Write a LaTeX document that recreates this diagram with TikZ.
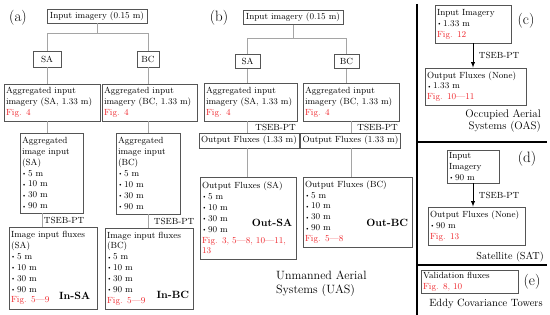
\documentclass[tikz,border=0pt]{standalone}
\usetikzlibrary{arrows}

\definecolor{boxgray}{RGB}{85,85,85}
\definecolor{linkgray}{RGB}{165,165,165}
\definecolor{figred}{RGB}{238,36,42}

\newcommand{\ptbul}{\raisebox{0.2ex}{\scalebox{0.65}{\textbullet}}\,}
\newcommand{\figref}[1]{\textcolor{figred}{#1}}

\tikzset{
    every node/.style={font=\fontsize{8.9}{10.9}\selectfont},
    box/.style={draw=boxgray, line width=0.8pt, inner xsep=2pt, inner ysep=2pt, align=left},
    sbox/.style={draw=boxgray, line width=0.8pt, inner sep=2pt, align=center},
    link/.style={draw=linkgray, line width=0.8pt},
    arrow/.style={draw=black, line width=0.9pt, -latex},
    lab/.style={inner sep=1.5pt},
    panel/.style={font=\fontsize{15}{17}\selectfont},
    tag/.style={font=\fontsize{10.5}{12}\selectfont\bfseries, inner sep=3pt},
    caption/.style={inner sep=0pt}
}

\begin{document}
\begin{tikzpicture}[x=1pt, y=-1pt]
    \useasboundingbox (0,0) rectangle (550,315);

    % (a)
    \node[panel] (aLab) at (18,18) {(a)};
    \node[sbox, minimum width=100pt, minimum height=14pt] (aIn) at (97,16) {Input imagery (0.15 m)};
    \node[sbox, minimum width=28pt, minimum height=16pt] (aSA) at (47,59) {SA};
    \node[sbox, minimum width=22pt, minimum height=16pt] (aBC) at (148,59) {BC};
    \node[box, text width=92pt, minimum height=37pt] (aAggSA) at (52,102.5)
        {Aggregated input\\imagery (SA, 1.33 m)\\\figref{Fig. 4}};
    \node[box, text width=91pt, minimum height=37pt] (aAggBC) at (149.5,102.5)
        {Aggregated input\\imagery (BC, 1.33 m)\\\figref{Fig. 4}};
    \node[box, text width=59pt, minimum height=80pt] (aImgSA) at (51.5,173)
        {Aggregated\\image input\\(SA)\\\ptbul 5 m\\\ptbul 10 m\\\ptbul 30 m\\\ptbul 90 m};
    \node[box, text width=60pt, minimum height=81pt] (aImgBC) at (148,173.5)
        {Aggregated\\image input\\(BC)\\\ptbul 5 m\\\ptbul 10 m\\\ptbul 30 m\\\ptbul 90 m};
    \node[box, text width=84pt, minimum height=82pt] (aFluxSA) at (53,268)
        {Image input fluxes\\(SA)\\\ptbul 5 m\\\ptbul 10 m\\\ptbul 30 m\\\ptbul 90 m\\\figref{Fig. 5---9}};
    \node[box, text width=84pt, minimum height=81pt] (aFluxBC) at (149,268.5)
        {Image input fluxes\\(BC)\\\ptbul 5 m\\\ptbul 10 m\\\ptbul 30 m\\\ptbul 90 m\\\figref{Fig. 5---9}};
    \node[tag, anchor=base east] (aTagSA) at ([shift={(-4,-10)}]aFluxSA.south east) {In-SA};
    \node[tag, anchor=base east] (aTagBC) at ([shift={(-1,-11)}]aFluxBC.south east) {In-BC};

    \draw[link] (aIn.south) -- ++(0,10) -| (aSA.north);
    \draw[link] (aIn.south) -- ++(0,10) -| (aBC.north);
    \draw[link] (aSA.south) -- (aSA.south |- aAggSA.north);
    \draw[link] (aBC.south) -- (aBC.south |- aAggBC.north);
    \draw[link] (aSA.south |- aAggSA.south) -- (aSA.south |- aImgSA.north);
    \draw[link] (aBC.south |- aAggBC.south) -- (aBC.south |- aImgBC.north);
    \draw[link] ([xshift=-5pt]aSA.south |- aImgSA.south) -- ([xshift=-5pt]aSA.south |- aFluxSA.north)
        node[lab, midway, right] (aTsSA) {TSEB-PT};
    \draw[link] (aBC.south |- aImgBC.south) -- (aBC.south |- aFluxBC.north)
        node[lab, midway, right, xshift=4pt] (aTsBC) {TSEB-PT};

    % (b)
    \node[panel] (bLab) at (219,18) {(b)};
    \node[sbox, minimum width=100pt, minimum height=14pt] (bIn) at (293,17.5) {Input imagery (0.15 m)};
    \node[sbox, minimum width=25pt, minimum height=14pt] (bSA) at (247.5,61.5) {SA};
    \node[sbox, minimum width=25pt, minimum height=14pt] (bBC) at (346.5,61.5) {BC};
    \node[box, text width=89pt, minimum height=38pt] (bAggSA) at (250.5,102)
        {Aggregated input\\imagery (SA, 1.33 m)\\\figref{Fig. 4}};
    \node[box, text width=92pt, minimum height=38pt] (bAggBC) at (351,102)
        {Aggregated input\\imagery (BC, 1.33 m)\\\figref{Fig. 4}};
    \node[sbox, minimum width=100pt, minimum height=15pt] (bOutSA) at (249,140.5) {Output Fluxes (1.33 m)};
    \node[sbox, minimum width=97pt, minimum height=15pt] (bOutBC) at (350.5,140.5) {Output Fluxes (1.33 m)};
    \node[box, text width=92pt, minimum height=82pt] (bFluxSA) at (248,218)
        {Output Fluxes (SA)\\\ptbul 5 m\\\ptbul 10 m\\\ptbul 30 m\\\ptbul 90 m\\\figref{Fig. 3, 5---8, 10---11,}\\\figref{13}};
    \node[box, text width=105pt, minimum height=70pt] (bFluxBC) at (357.5,212)
        {Output Fluxes (BC)\\\ptbul 5 m\\\ptbul 10 m\\\ptbul 30 m\\\ptbul 90 m\\\figref{Fig. 5---8}};
    \node[tag, anchor=base east] (bTagSA) at ([shift={(-1,9)}]bFluxSA.east) {Out-SA};
    \node[tag, anchor=base east] (bTagBC) at ([shift={(-1,15)}]bFluxBC.east) {Out-BC};
    \node[caption, anchor=north west, align=left, font=\fontsize{12}{14}\selectfont] (bCap) at (276,271)
        {Unmanned Aerial\\Systems (UAS)};

    \draw[link] (bIn.south) -- ++(0,14) -| (bSA.north);
    \draw[link] (bIn.south) -- ++(0,14) -| (bBC.north);
    \draw[link] (bSA.south) -- (bSA.south |- bAggSA.north);
    \draw[link] (bBC.south) -- (bBC.south |- bAggBC.north);
    \draw[link] (bSA.south |- bAggSA.south) -- (bSA.south |- bOutSA.north)
        node[lab, midway, right, xshift=6pt] (bTsSA) {TSEB-PT};
    \draw[link] ([xshift=5pt]bBC.south |- bAggBC.south) -- ([xshift=5pt]bBC.south |- bOutBC.north)
        node[lab, midway, right, xshift=4pt] (bTsBC) {TSEB-PT};
    \draw[link] (bSA.south |- bOutSA.south) -- (bSA.south |- bFluxSA.north);
    \draw[link] ([xshift=5pt]bBC.south |- bOutBC.south) -- ([xshift=5pt]bBC.south |- bFluxBC.north);

    % separators
    \draw[line width=1.4pt] (417,4) -- (417,315);
    \draw[line width=1.4pt] (417,142) -- (547,142);
    \draw[line width=1.4pt] (417,265) -- (547,265);

    % (c)
    \node[panel] (cLab) at (526,21) {(c)};
    \node[box, text width=72pt, minimum height=38pt] (cIn) at (473,24)
        {Input Imagery\\\ptbul 1.33 m\\\figref{Fig. 12}};
    \node[box, text width=97pt, minimum height=37pt] (cOut) at (475.5,86.5)
        {Output Fluxes (None)\\\ptbul 1.33 m\\\figref{Fig. 10---11}};
    \draw[arrow] (cIn.south) -- (cIn.south |- cOut.north)
        node[lab, midway, right, xshift=4pt] (cTs) {TSEB-PT};
    \node[caption, anchor=north east, align=right, font=\fontsize{11}{12.5}\selectfont] (cCap) at (541,109)
        {Occupied Aerial\\Systems (OAS)};

    % (d)
    \node[panel] (dLab) at (527,159) {(d)};
    \node[box, text width=48pt, minimum height=33pt] (dIn) at (473,166.5)
        {Input\\Imagery\\\ptbul 90 m};
    \node[box, text width=93pt, minimum height=38pt] (dOut) at (476.5,226)
        {Output Fluxes (None)\\\ptbul 90 m\\\figref{Fig. 13}};
    \draw[arrow] (dIn.south) -- (dIn.south |- dOut.north)
        node[lab, midway, right, xshift=4pt] (dTs) {TSEB-PT};
    \node[caption, anchor=east, font=\fontsize{10.2}{12}\selectfont] (dCap) at (544,257) {Satellite (SAT)};

    % (e)
    \node[panel] (eLab) at (532,282) {(e)};
    \node[box, text width=93pt, minimum height=23pt] (eVal) at (469.5,281.5)
        {Validation fluxes\\\figref{Fig. 8, 10}};
    \node[caption, font=\fontsize{10.5}{12}\selectfont] (eCap) at (486,304) {Eddy Covariance Towers};
\end{tikzpicture}
\end{document}
